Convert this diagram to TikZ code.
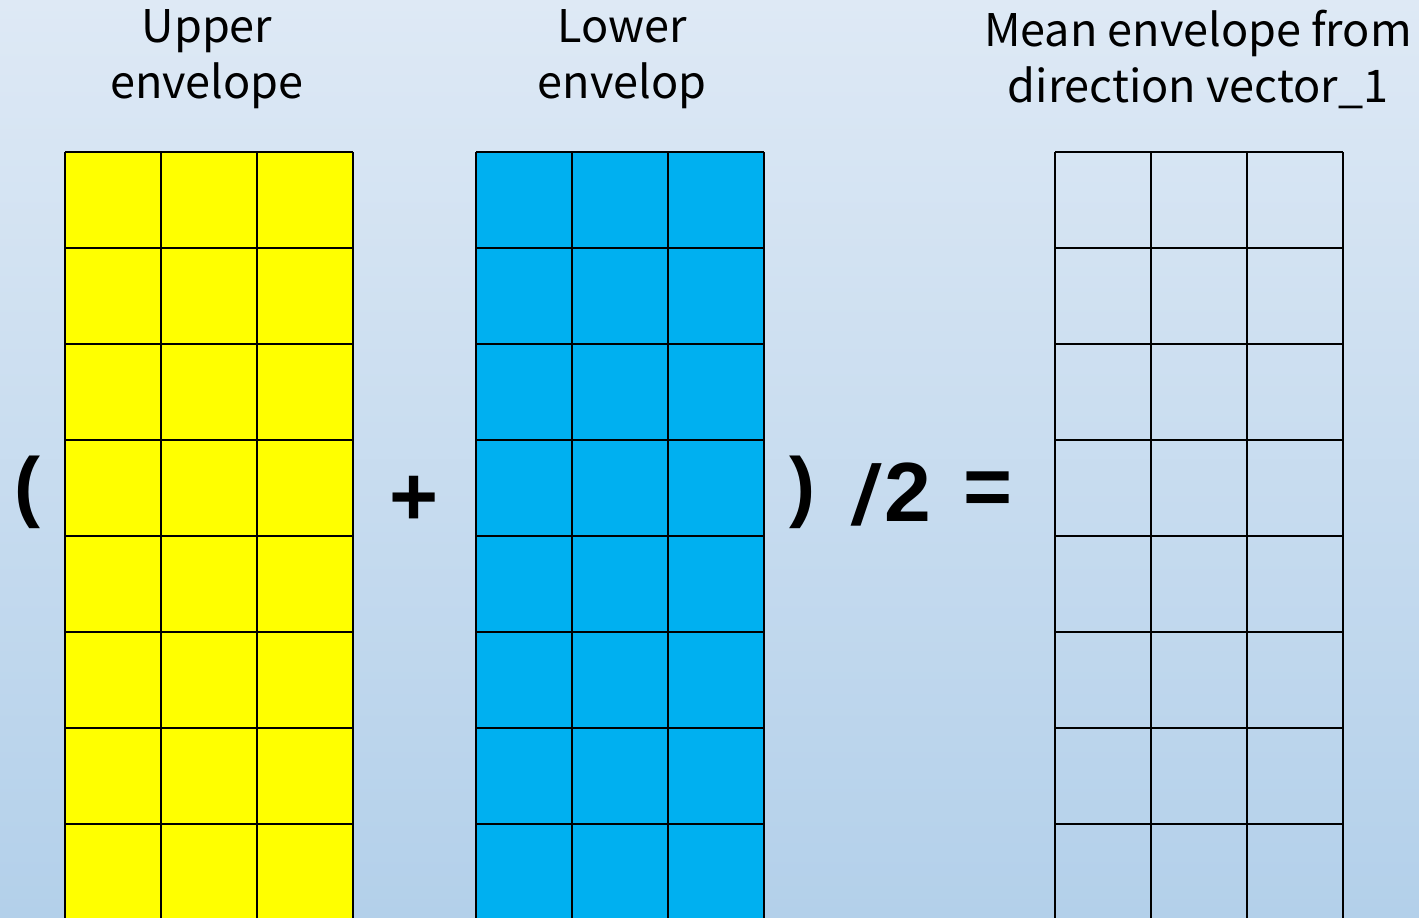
\documentclass[tikz,border=0pt]{standalone}
\usepackage{fontspec}
\setmainfont{Noto Sans CJK SC}
\newfontfamily\symfont{Liberation Sans}
\definecolor{bgtop}{RGB}{222,233,245}
\definecolor{bgbot}{RGB}{179,208,234}
\definecolor{cellyellow}{RGB}{255,255,0}
\definecolor{cellblue}{RGB}{0,176,240}
\tikzset{
  gridline/.style={draw=black,line width=1.35pt},
  titletext/.style={align=center,font=\fontsize{22.5}{28}\selectfont,text=black,inner sep=0pt},
  symtext/.style={font=\symfont\bfseries\fontsize{42}{44}\selectfont,text=black,inner sep=0pt},
  parentext/.style={symtext,font=\symfont\bfseries\fontsize{39}{44}\selectfont},
}
\newcommand{\envgrid}[2]{%
  \path[fill=#2] (#1,152) rectangle (#1+288,930);
  \foreach \c in {0,96,192,288} \draw[gridline] (#1+\c,152) -- (#1+\c,930);
  \foreach \r in {0,1,...,7} \draw[gridline] (#1,152+96*\r) -- (#1+288,152+96*\r);
}
\begin{document}
\begin{tikzpicture}[x=0.5pt,y=-0.5pt]
\useasboundingbox (0,0) rectangle (1419,917);
\shade[top color=bgtop,bottom color=bgbot] (0,0) rectangle (1419,917);
\clip (0,0) rectangle (1419,917);
\envgrid{65}{cellyellow}
\envgrid{476}{cellblue}
\envgrid{1055}{none}
\node[titletext] (upper) at (207,59) {Upper\\envelope};
\node[titletext] (lower) at (622,59) {Lower\\envelop};
\node[titletext] (mean) at (1198,59) {Mean envelope from\\direction vector\_1};
\node[parentext] (lpar) at (27,492) {(};
\node[symtext] (plus) at (414,501) {+};
\node[parentext] (rpar) at (802,492) {)};
\node[symtext,xslant=0.15] (slash) at (867,495) {/};
\node[symtext] (two) at (908,492) {2};
\node[symtext] (eq) at (988,494) {=};
\end{tikzpicture}
\end{document}
